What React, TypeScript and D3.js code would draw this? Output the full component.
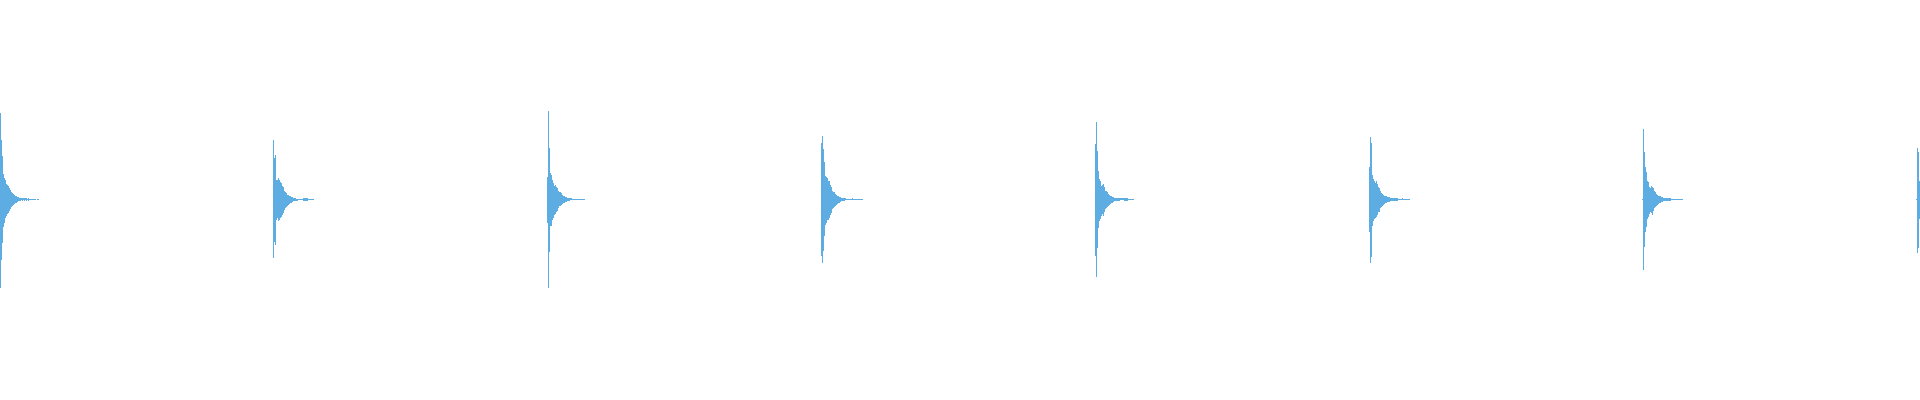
import { useEffect, useRef } from "react";
import * as d3 from "d3";

// start column of each drum hit (in pixel-columns of the 1920 wide waveform)
const hitStarts = [0, 273, 547, 821, 1095, 1369, 1642, 1916];

// peak (max) sample per column, and trough (min) magnitude per column
const hit1Max = [0.435, 0.297, 0.217, 0.127, 0.11, 0.097, 0.08, 0.073, 0.067, 0.06, 0.05, 0.04, 0.033, 0.027, 0.022, 0.018, 0.017, 0.013, 0.012, 0.01, 0.008, 0.01, 0.007, 0.007, 0.007, 0.008, 0.007, 0.005, 0.008, 0.005, 0.005, 0.003, 0.003, 0.002, 0.002, 0.002, 0, 0.002, 0.002];
const hit1Min = [0.442, 0.303, 0.217, 0.137, 0.12, 0.095, 0.083, 0.073, 0.067, 0.06, 0.05, 0.04, 0.033, 0.027, 0.022, 0.018, 0.017, 0.013, 0.01, 0.008, 0.007, 0.005, 0.007, 0.005, 0.007, 0.005, 0.007, 0.005, 0.008, 0.005, 0.003, 0.003, 0.003, 0.003, 0.002, 0.002, 0, 0.002, 0.002];

const hit2Max = [0.297, 0.21, 0.225, 0.1, 0.1, 0.11, 0.1, 0.09, 0.085, 0.07, 0.065, 0.045, 0.04, 0.035, 0.025, 0.025, 0.02, 0.017, 0.015, 0.013, 0.01, 0.008, 0.007, 0.005, 0.005, 0.005, 0.005, 0.005, 0.003, 0.003, 0.007, 0.007, 0.007, 0.007, 0.007, 0.003, 0.002, 0.002, 0.002, 0.002, 0.002];
const hit2Min = [0.295, 0.215, 0.23, 0.105, 0.095, 0.11, 0.105, 0.095, 0.09, 0.08, 0.07, 0.055, 0.045, 0.04, 0.035, 0.03, 0.025, 0.02, 0.017, 0.015, 0.01, 0.008, 0.008, 0.007, 0.007, 0.005, 0.005, 0.005, 0.005, 0.005, 0.007, 0.007, 0.007, 0.007, 0.007, 0.005, 0.003, 0.003, 0.003, 0.003, 0.003];

const hit3Max = [0.115, 0.442, 0.26, 0.135, 0.125, 0.1, 0.085, 0.07, 0.075, 0.065, 0.06, 0.045, 0.04, 0.04, 0.035, 0.025, 0.02, 0.017, 0.013, 0.012, 0.01, 0.01, 0.007, 0.007, 0.007, 0.005, 0.005, 0.003, 0.003, 0.003, 0.003, 0.003, 0.003, 0.005, 0.005, 0.005, 0.005, 0.005];
const hit3Min = [0.12, 0.442, 0.265, 0.135, 0.135, 0.105, 0.095, 0.08, 0.075, 0.065, 0.06, 0.045, 0.035, 0.035, 0.03, 0.025, 0.02, 0.017, 0.015, 0.012, 0.01, 0.008, 0.007, 0.005, 0.005, 0.005, 0.005, 0.005, 0.005, 0.005, 0.005, 0.005, 0.005, 0.005, 0.005, 0.005, 0.005, 0.005];

const hit4Max = [0.283, 0.317, 0.255, 0.19, 0.12, 0.115, 0.11, 0.095, 0.095, 0.075, 0.065, 0.045, 0.04, 0.04, 0.03, 0.025, 0.02, 0.017, 0.015, 0.013, 0.01, 0.01, 0.008, 0.008, 0.007, 0.005, 0.005, 0.005, 0.005, 0.005, 0.005, 0.007, 0.003, 0.003, 0.003, 0.003, 0.003, 0.002, 0.002, 0.002, 0.002, 0.002];
const hit4Min = [0.283, 0.317, 0.26, 0.185, 0.13, 0.12, 0.105, 0.105, 0.095, 0.08, 0.07, 0.05, 0.045, 0.04, 0.035, 0.03, 0.025, 0.02, 0.017, 0.013, 0.01, 0.008, 0.007, 0.007, 0.005, 0.003, 0.003, 0.003, 0.003, 0.003, 0.003, 0.003, 0.003, 0.003, 0.003, 0.003, 0.003, 0.002, 0.002, 0.002, 0.002, 0.002];

const hit5Max = [0.28, 0.388, 0.245, 0.145, 0.105, 0.095, 0.07, 0.075, 0.08, 0.065, 0.045, 0.045, 0.04, 0.03, 0.025, 0.02, 0.017, 0.013, 0.013, 0.01, 0.01, 0.008, 0.007, 0.007, 0.007, 0.007, 0.007, 0.007, 0.007, 0.008, 0.008, 0.008, 0.008, 0.005, 0.005, 0.005, 0.005, 0.005, 0.005];
const hit5Min = [0.283, 0.387, 0.245, 0.145, 0.11, 0.1, 0.085, 0.075, 0.085, 0.065, 0.05, 0.045, 0.04, 0.035, 0.03, 0.025, 0.02, 0.017, 0.013, 0.01, 0.008, 0.007, 0.007, 0.007, 0.007, 0.003, 0.003, 0.003, 0.003, 0.007, 0.007, 0.007, 0.007, 0.003, 0.003, 0.003, 0.003, 0.003, 0.003];

const hit6Max = [0.165, 0.313, 0.283, 0.125, 0.105, 0.095, 0.085, 0.095, 0.08, 0.065, 0.06, 0.045, 0.035, 0.03, 0.025, 0.02, 0.017, 0.017, 0.013, 0.013, 0.013, 0.01, 0.008, 0.008, 0.008, 0.008, 0.007, 0.007, 0.007, 0.005, 0.005, 0.005, 0.005, 0.008, 0.005, 0.005, 0.005, 0.002, 0.002, 0.002, 0.002];
const hit6Min = [0.165, 0.317, 0.287, 0.135, 0.11, 0.1, 0.095, 0.09, 0.08, 0.065, 0.065, 0.045, 0.04, 0.035, 0.03, 0.025, 0.02, 0.017, 0.013, 0.013, 0.012, 0.01, 0.008, 0.008, 0.008, 0.008, 0.007, 0.007, 0.007, 0.003, 0.003, 0.003, 0.003, 0.003, 0.005, 0.005, 0.005, 0.002, 0.002, 0.002, 0.002];

const hit7Max = [0.002, 0.352, 0.238, 0.163, 0.138, 0.095, 0.088, 0.065, 0.06, 0.07, 0.065, 0.06, 0.045, 0.04, 0.03, 0.025, 0.02, 0.017, 0.017, 0.013, 0.012, 0.01, 0.008, 0.008, 0.008, 0.007, 0.007, 0.007, 0.007, 0.005, 0.005, 0.005, 0.005, 0.005, 0.005, 0.005, 0.003, 0.003, 0.003, 0.003, 0.003];
const hit7Min = [0.003, 0.353, 0.24, 0.162, 0.14, 0.1, 0.09, 0.075, 0.065, 0.07, 0.08, 0.06, 0.045, 0.04, 0.035, 0.03, 0.025, 0.02, 0.017, 0.013, 0.012, 0.01, 0.008, 0.008, 0.008, 0.007, 0.007, 0.007, 0.007, 0.005, 0.005, 0.005, 0.005, 0.005, 0.005, 0.005, 0.003, 0.003, 0.003, 0.003, 0.003];

const hit8Max = [0.005, 0.26, 0.24, 0.095];
const hit8Min = [0.005, 0.267, 0.245, 0.1];

const hitMax = [hit1Max, hit2Max, hit3Max, hit4Max, hit5Max, hit6Max, hit7Max, hit8Max];
const hitMin = [hit1Min, hit2Min, hit3Min, hit4Min, hit5Min, hit6Min, hit7Min, hit8Min];

const WIDTH = 1920;
const HEIGHT = 400;
const COLOR = "#5dade2";

export default function App() {
  const svgRef = useRef<SVGSVGElement | null>(null);

  useEffect(() => {
    if (!svgRef.current) return;

    const columns: { col: number; hi: number; lo: number }[] = [];
    hitStarts.forEach((start, h) => {
      hitMax[h].forEach((hi, i) => {
        const lo = -hitMin[h][i];
        if (hi === 0 && lo === 0) return;
        columns.push({ col: start + i, hi, lo });
      });
    });

    const svg = d3.select(svgRef.current)
      .attr("width", WIDTH)
      .attr("height", HEIGHT);

    svg.selectAll("*").remove();

    const x = d3.scaleLinear().domain([0, WIDTH]).range([0, WIDTH]);
    const y = d3.scaleLinear().domain([-1, 1]).range([HEIGHT - 1, 0]);

    svg.append("g")
      .attr("shape-rendering", "crispEdges")
      .selectAll("rect")
      .data(columns)
      .join("rect")
      .attr("x", d => x(d.col))
      .attr("width", x(1) - x(0))
      .attr("y", d => y(d.hi))
      .attr("height", d => Math.max(1, y(d.lo) - y(d.hi)))
      .attr("fill", COLOR);
  }, []);

  return (
    <div style={{ position: "absolute", left: 0, top: 0, width: WIDTH, height: HEIGHT, background: "#fff" }}>
      <svg ref={svgRef} style={{ display: "block" }}></svg>
    </div>
  );
}
